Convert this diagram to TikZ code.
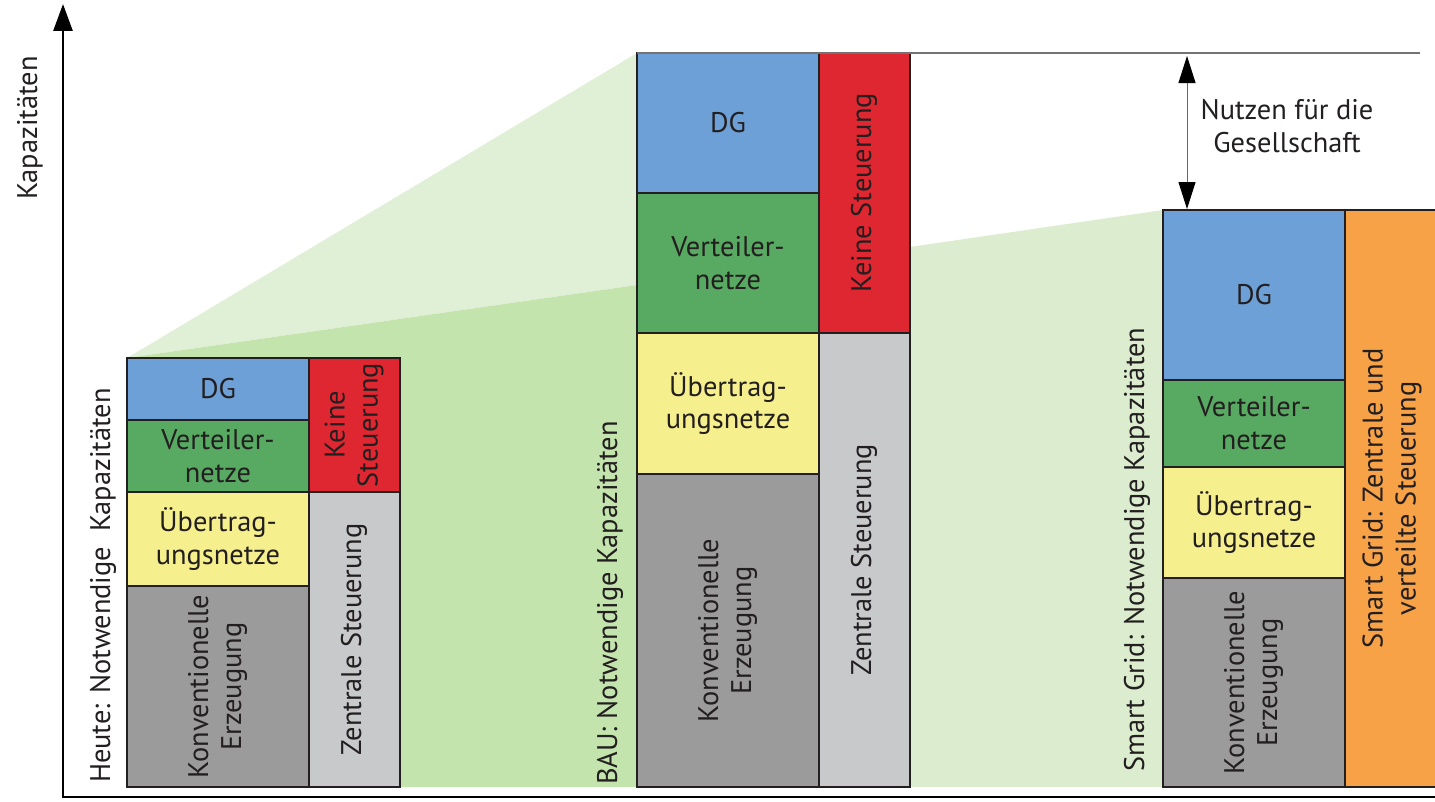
\documentclass[tikz,border=0pt]{standalone}
\usepackage{fontspec}
\setmainfont{PT Sans}
\usepackage{graphicx}
\usetikzlibrary{positioning,arrows.meta,calc}
\definecolor{gridink}{HTML}{231F20}
\definecolor{gridblue}{HTML}{6CA0D6}
\definecolor{gridgreen}{HTML}{58A962}
\definecolor{gridyellow}{HTML}{F6EF8D}
\definecolor{griddark}{HTML}{9B9B9B}
\definecolor{gridlight}{HTML}{C8C9CB}
\definecolor{gridred}{HTML}{DF2731}
\definecolor{gridorange}{HTML}{F8A247}
\definecolor{shadelight}{HTML}{E0F0D7}
\definecolor{shadedark}{HTML}{C4E4AE}
\definecolor{shaderight}{HTML}{DBEDCE}
\newcommand{\vlabel}[1]{\rotatebox{90}{\begin{tabular}{@{}c@{}}#1\end{tabular}}}

\begin{document}
\begin{tikzpicture}[
  x=1bp, y=-1bp,
  font=\fontsize{28.5}{33}\selectfont,
  text=gridink,
  blk/.style={draw=gridink,line width=1.2bp,inner sep=0pt,outer sep=0pt,
              align=center,minimum width=182bp},
  ctrl/.style={blk,minimum width=91bp},
  barlabel/.style={rotate=90,anchor=west,inner sep=0pt},
  axisline/.style={line width=2.8bp,-{Triangle[length=27bp,width=19bp]}},
  gaparrow/.style={{Triangle[length=27bp,width=17bp,black]}-{Triangle[length=27bp,width=17bp,black]},
                   draw=black!60,line width=1bp}
]
\useasboundingbox (0,0) rectangle (1435,801);

% green shading behind the bars
\fill[shadelight] (127,358) -- (637,53) -- (637,285) -- cycle;
\fill[shadedark] (127,358) -- (637,285) -- (637,787) -- (127,787) -- cycle;
\fill[shaderight] (910,247) -- (1163,210) -- (1163,787) -- (910,787) -- cycle;

% axes
\coordinate (origin) at (63,797);
\coordinate (ytop) at (63,4);
\coordinate (xend) at (1435,797);
\draw[axisline] (xend) -- (origin) -- (ytop);
\node[rotate=90] (ylabel) at (30,128) {Kapazitäten};

% bar 1: heute
\node[blk,fill=gridblue,minimum height=62bp,anchor=north west] (dg1) at (127,358) {DG};
\node[blk,fill=gridgreen,minimum height=72bp,below=0pt of dg1] (vn1) {Verteiler-\\netze};
\node[blk,fill=gridyellow,minimum height=94bp,below=0pt of vn1] (un1) {Übertrag-\\ungsnetze};
\node[blk,fill=griddark,minimum height=201bp,below=0pt of un1] (ke1) {\vlabel{Konventionelle\\Erzeugung}};
\node[ctrl,fill=gridred,minimum height=134bp,anchor=north west] (ks1) at (dg1.north east) {\vlabel{Keine\\Steuerung}};
\node[ctrl,fill=gridlight,minimum height=295bp,below=0pt of ks1] (zs1) {\vlabel{Zentrale Steuerung}};
\node[barlabel] (lab1) at (103,783) {Heute: Notwendige\ \ Kapazitäten};

% bar 2: BAU
\node[blk,fill=gridblue,minimum height=140bp,anchor=north west] (dg2) at (637,53) {DG};
\node[blk,fill=gridgreen,minimum height=140bp,below=0pt of dg2] (vn2) {Verteiler-\\netze};
\node[blk,fill=gridyellow,minimum height=141bp,below=0pt of vn2] (un2) {Übertrag-\\ungsnetze};
\node[blk,fill=griddark,minimum height=313bp,below=0pt of un2] (ke2) {\vlabel{Konventionelle\\Erzeugung}};
\node[ctrl,fill=gridred,minimum height=280bp,anchor=north west] (ks2) at (dg2.north east) {\vlabel{Keine Steuerung}};
\node[ctrl,fill=gridlight,minimum height=454bp,below=0pt of ks2] (zs2) {\vlabel{Zentrale Steuerung}};
\node[barlabel] (lab2) at (610,785) {BAU: Notwendige Kapazitäten};

% bar 3: smart grid
\node[blk,fill=gridblue,minimum height=170bp,anchor=north west] (dg3) at (1163,210) {DG};
\node[blk,fill=gridgreen,minimum height=87bp,below=0pt of dg3] (vn3) {Verteiler-\\netze};
\node[blk,fill=gridyellow,minimum height=111bp,below=0pt of vn3] (un3) {Übertrag-\\ungsnetze};
\node[blk,fill=griddark,minimum height=209bp,below=0pt of un3] (ke3) {\vlabel{Konventionelle\\Erzeugung}};
\node[ctrl,fill=gridorange,minimum width=95bp,minimum height=577bp,anchor=north west] (sg3) at (dg3.north east) {\vlabel{Smart Grid: Zentrale und\\verteilte Steuerung}};
\node[barlabel] (lab3) at (1137,772) {Smart Grid: Notwendige Kapazitäten};

% benefit between BAU and smart grid
\coordinate (topline) at (1420,53);
\draw[black!55,line width=2.5bp] (dg2.north west) -- (topline);
\coordinate (gtop) at (1187,56);
\coordinate (gbot) at (1187,209);
\draw[gaparrow] (gtop) -- (gbot);
\node[align=center] (nutzen) at (1287,126) {Nutzen für die\\Gesellschaft};
\end{tikzpicture}
\end{document}
